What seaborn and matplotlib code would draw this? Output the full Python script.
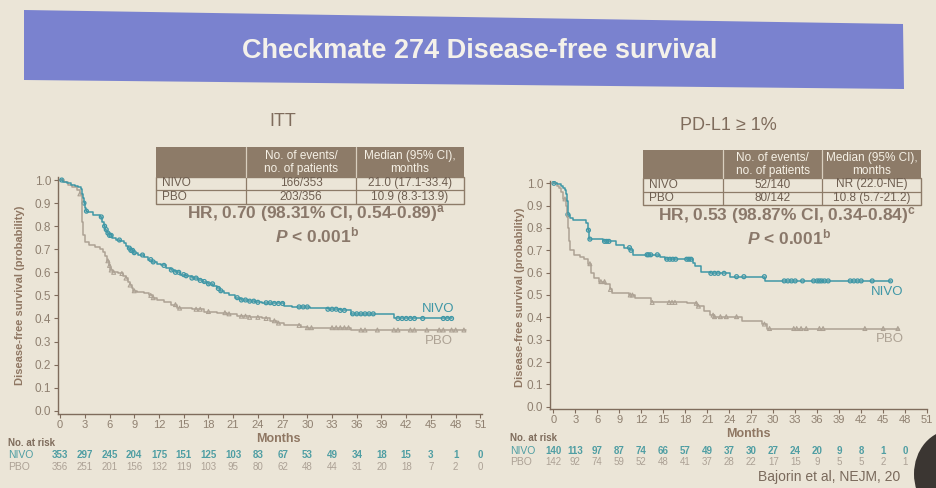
import numpy as np
import matplotlib
matplotlib.use("Agg")
import matplotlib.pyplot as plt
import matplotlib.transforms as mtransforms
from matplotlib.patches import Rectangle, Polygon, Ellipse
import seaborn as sns

# ---- data ----
months_ticks = np.arange(0, 52, 3)

# ITT panel: Kaplan-Meier steps (time, survival)
itt_nivo_t = [0, 0.3, 0.8, 1.3, 1.8, 2.2, 2.5, 2.7, 2.8, 2.9, 3.0, 3.1, 3.3, 4.0, 4.8, 5.1, 5.3, 5.5,
              5.7, 6.0, 6.3, 6.8, 7.3, 7.7, 8.0, 8.3, 8.6, 8.9, 9.5, 10.2, 10.7, 11.2, 11.7, 12.2,
              12.8, 13.4, 14.0, 14.6, 15.3, 16.0, 16.7, 17.3, 18.0, 18.6, 19.0, 19.4, 19.9, 20.5,
              21.2, 22.0, 22.8, 23.6, 24.5, 26.0, 27.2, 28.2, 30.3, 32.5, 34.0, 35.3, 40.5, 47.6]
itt_nivo_s = [1.0, 0.99, 0.985, 0.98, 0.975, 0.97, 0.96, 0.94, 0.92, 0.90, 0.88, 0.865, 0.86, 0.85,
              0.84, 0.82, 0.80, 0.785, 0.77, 0.76, 0.75, 0.74, 0.735, 0.725, 0.715, 0.705, 0.695,
              0.685, 0.675, 0.665, 0.655, 0.645, 0.635, 0.63, 0.62, 0.61, 0.60, 0.59, 0.585, 0.575,
              0.565, 0.56, 0.55, 0.54, 0.53, 0.52, 0.51, 0.50, 0.49, 0.48, 0.475, 0.47, 0.468, 0.465,
              0.455, 0.45, 0.445, 0.44, 0.435, 0.42, 0.40, 0.40]
itt_pbo_t = [0, 0.5, 1.0, 1.5, 2.0, 2.4, 2.6, 2.7, 2.8, 3.0, 3.5, 4.2, 4.8, 5.2, 5.5, 5.7, 5.9, 6.1,
             6.4, 7.0, 7.6, 8.0, 8.3, 8.5, 8.7, 8.9, 9.3, 10.2, 10.8, 11.3, 11.8, 12.6, 13.5, 14.2,
             16.0, 17.5, 19.0, 20.3, 21.5, 23.0, 24.5, 25.5, 26.3, 27.2, 29.2, 30.0, 35.3, 49.3]
itt_pbo_s = [1.0, 0.99, 0.98, 0.97, 0.955, 0.94, 0.90, 0.82, 0.76, 0.73, 0.72, 0.71, 0.70, 0.69,
             0.67, 0.65, 0.63, 0.61, 0.60, 0.595, 0.585, 0.575, 0.56, 0.545, 0.53, 0.52, 0.515,
             0.51, 0.50, 0.49, 0.48, 0.47, 0.46, 0.445, 0.44, 0.43, 0.425, 0.42, 0.41, 0.405, 0.40,
             0.39, 0.38, 0.37, 0.365, 0.36, 0.35, 0.35]
itt_nivo_cens = [0.2, 2.9, 3.2, 5.0, 5.4, 5.6, 5.8, 6.0, 6.2, 7.2, 8.4, 8.6, 8.8, 9.0, 10.0, 11.0,
                 11.3, 12.6, 13.5, 14.0, 14.4, 15.0, 15.3, 16.0, 16.5, 17.0, 17.5, 18.0, 18.5, 19.2,
                 19.5, 21.5, 22.0, 22.5, 23.0, 23.5, 24.0, 25.0, 25.5, 26.0, 26.5, 27.0, 29.0, 29.5,
                 30.0, 32.5, 33.0, 33.5, 34.0, 34.5, 35.5, 36.0, 36.5, 37.0, 37.5, 38.0, 41.0, 41.5,
                 42.0, 42.5, 43.0, 44.0, 46.5, 47.0, 47.5]
itt_pbo_cens = [2.4, 5.8, 6.0, 6.2, 6.5, 7.5, 8.0, 8.5, 9.0, 11.0, 11.3, 14.0, 14.5, 16.5, 17.0,
                18.0, 20.0, 20.5, 22.0, 22.5, 23.0, 24.0, 25.0, 26.0, 26.5, 29.0, 30.0, 30.5, 33.0,
                33.5, 34.0, 34.5, 35.0, 36.5, 37.0, 38.5, 40.5, 41.0, 42.5, 43.0, 44.5, 46.0, 46.5,
                47.5, 48.0, 49.0]

# PD-L1 >= 1% panel
pd_nivo_t = [0, 0.5, 1.0, 1.3, 1.6, 1.8, 1.9, 2.0, 2.3, 2.7, 4.5, 4.7, 4.9, 6.8, 8.5, 9.6, 10.5,
             10.9, 14.5, 15.3, 19.0, 19.3, 20.1, 21.4, 24.1, 28.9, 46.0]
pd_nivo_s = [1.0, 0.995, 0.99, 0.98, 0.97, 0.95, 0.92, 0.86, 0.845, 0.835, 0.82, 0.79, 0.75, 0.74,
             0.725, 0.712, 0.70, 0.68, 0.67, 0.66, 0.645, 0.63, 0.605, 0.597, 0.582, 0.563, 0.563]
pd_pbo_t = [0, 0.5, 0.8, 1.1, 1.4, 1.7, 1.9, 2.0, 2.1, 2.3, 2.9, 3.6, 4.2, 4.7, 5.1, 5.6, 6.2, 7.1,
            7.8, 8.0, 10.3, 11.2, 13.4, 18.3, 19.6, 20.6, 21.4, 21.9, 25.7, 28.5, 29.2, 47.1]
pd_pbo_s = [1.0, 0.99, 0.98, 0.96, 0.93, 0.90, 0.85, 0.80, 0.74, 0.70, 0.68, 0.67, 0.66, 0.64,
            0.60, 0.575, 0.56, 0.55, 0.525, 0.51, 0.50, 0.485, 0.467, 0.463, 0.45, 0.43, 0.41,
            0.403, 0.383, 0.37, 0.35, 0.35]
pd_nivo_cens = [0.1, 2.0, 4.8, 5.0, 7.0, 7.3, 7.6, 10.4, 10.6, 12.8, 13.0, 13.3, 14.2, 15.5, 15.9,
                16.3, 16.7, 18.2, 18.5, 18.8, 21.5, 22.0, 22.5, 23.3, 25.0, 26.0, 28.8, 31.5, 32.0,
                32.5, 33.0, 34.0, 35.5, 36.0, 36.3, 36.6, 37.0, 37.5, 40.5, 41.0, 41.5, 42.0, 43.5,
                46.0]
pd_pbo_cens = [1.6, 5.0, 6.5, 7.0, 7.8, 10.5, 10.8, 13.5, 15.8, 16.2, 16.6, 19.5, 19.8, 21.8,
               22.0, 22.8, 23.6, 25.0, 28.8, 29.5, 32.8, 33.2, 33.8, 34.5, 36.3, 36.8, 42.5, 45.0,
               47.0]

# numbers at risk
itt_risk_nivo = [353, 297, 245, 204, 175, 151, 125, 103, 83, 67, 53, 49, 34, 18, 15, 3, 1, 0]
itt_risk_pbo = [356, 251, 201, 156, 132, 119, 103, 95, 80, 62, 48, 44, 31, 20, 18, 7, 2, 0]
pd_risk_nivo = [140, 113, 97, 87, 74, 66, 57, 49, 37, 30, 27, 24, 20, 9, 8, 1, 0]
pd_risk_pbo = [142, 92, 74, 59, 52, 48, 41, 37, 28, 22, 17, 15, 9, 5, 5, 2, 1]

itt_table = [["NIVO", "166/353", "21.0 (17.1-33.4)"], ["PBO", "203/356", "10.9 (8.3-13.9)"]]
pd_table = [["NIVO", "52/140", "NR (22.0-NE)"], ["PBO", "80/142", "10.8 (5.7-21.2)"]]

# ---- style ----
bg = "#ebe5d7"
brown = "#7f6c5c"
head_fill = "#8d7b68"
teal = "#3f97a6"
grey = "#ada294"

sns.set_theme(style="white")
plt.rcParams["font.family"] = ["Liberation Sans", "DejaVu Sans"]
plt.rcParams["mathtext.fontset"] = "custom"
plt.rcParams["mathtext.rm"] = "Liberation Sans"
plt.rcParams["mathtext.it"] = "Liberation Sans:italic:bold"
plt.rcParams["mathtext.bf"] = "Liberation Sans:bold"

fig = plt.figure(figsize=(9.36, 4.88), dpi=100)
fig.patch.set_facecolor(bg)

axL = fig.add_axes([0.062, 0.1512, 0.453, 0.487])
axR = fig.add_axes([0.5876, 0.162, 0.403, 0.467])


def step_y(t, s, c):
    idx = np.searchsorted(np.array(t), np.array(c), side="right") - 1
    return np.array(s)[idx]


def km_panel(ax, nt, ns, pt, ps, nc, pc, xlim, ylim):
    ax.set_facecolor("none")
    sns.lineplot(x=pt, y=ps, ax=ax, color=grey, lw=1.1, drawstyle="steps-post")
    sns.lineplot(x=nt, y=ns, ax=ax, color=teal, lw=1.1, drawstyle="steps-post")
    sns.scatterplot(x=pc, y=step_y(pt, ps, pc), ax=ax, marker="^", s=8,
                    facecolor="none", edgecolor=grey, linewidth=0.8)
    sns.scatterplot(x=nc, y=step_y(nt, ns, nc), ax=ax, marker="o", s=8,
                    facecolor="none", edgecolor=teal, linewidth=0.9)
    ax.set_xlim(*xlim)
    ax.set_ylim(*ylim)
    ax.set_xticks(months_ticks)
    ax.set_yticks(np.arange(0, 1.01, 0.1))
    ax.set_yticklabels([f"{v:.1f}" for v in np.arange(0, 1.01, 0.1)])
    for sp in ["top", "right"]:
        ax.spines[sp].set_visible(False)
    for sp in ["left", "bottom"]:
        ax.spines[sp].set_color(brown)
        ax.spines[sp].set_linewidth(1.0)
    ax.tick_params(axis="both", colors=brown, labelcolor="#8f8070", labelsize=8.5,
                   length=3, width=0.8, pad=2, direction="out", bottom=True, left=True)
    ax.tick_params(axis="x", labelsize=8, pad=1.5)
    ax.set_xlabel("")
    ax.set_ylabel("")


km_panel(axL, itt_nivo_t, itt_nivo_s, itt_pbo_t, itt_pbo_s, itt_nivo_cens, itt_pbo_cens,
         (-0.25, 51.2), (-0.015, 1.015))
km_panel(axR, pd_nivo_t, pd_nivo_s, pd_pbo_t, pd_pbo_s, pd_nivo_cens, pd_pbo_cens,
         (-0.44, 51.0), (-0.01, 1.01))

axL.text(45.9, 0.44, "NIVO", color=teal, fontsize=9.5, ha="center", va="center")
axL.text(46.0, 0.302, "PBO", color=grey, fontsize=9.5, ha="center", va="center")
axR.text(45.6, 0.513, "NIVO", color=teal, fontsize=9.5, ha="center", va="center")
axR.text(45.9, 0.303, "PBO", color=grey, fontsize=9.5, ha="center", va="center")

# ---- overlay in pixel coordinates ----
ov = fig.add_axes([0, 0, 1, 1], zorder=5)
ov.set_xlim(0, 936)
ov.set_ylim(488, 0)
ov.axis("off")
ov.patch.set_alpha(0)

ov.add_patch(Polygon([(24, 10), (903, 24), (904, 89), (24, 80)], closed=True,
                     facecolor="#7a82cf", edgecolor="none"))
ov.text(480, 51, "Checkmate 274 Disease-free survival", color="#f4f1ea", fontsize=19.5,
        fontweight="bold", ha="center", va="center")
ov.text(283, 122, "ITT", color=brown, fontsize=13, ha="center", va="center")
ov.text(728, 125, "PD-L1 ≥ 1%", color=brown, fontsize=13, ha="center", va="center")


def draw_table(x0, xa, xb, x1, y0, yh, ym, y1, rows):
    ov.add_patch(Rectangle((x0, y0), x1 - x0, yh - y0, facecolor=head_fill, edgecolor="none"))
    ov.add_patch(Rectangle((x0, yh), x1 - x0, y1 - yh, facecolor="none",
                           edgecolor=head_fill, lw=1.0))
    ov.plot([x0, x1], [ym, ym], color=head_fill, lw=0.9)
    for xx in (xa, xb):
        ov.plot([xx, xx], [yh, y1], color=head_fill, lw=0.9)
        ov.plot([xx, xx], [y0, yh], color="#d9cfbf", lw=0.9)
    tc = "#f6f1e6"
    fs = 8.5
    ov.text((xa + xb) / 2, y0 + (yh - y0) * 0.3, "No. of events/", color=tc, fontsize=fs,
            ha="center", va="center")
    ov.text((xa + xb) / 2, y0 + (yh - y0) * 0.75, "no. of patients", color=tc, fontsize=fs,
            ha="center", va="center")
    ov.text((xb + x1) / 2, y0 + (yh - y0) * 0.3, "Median (95% CI),", color=tc, fontsize=fs,
            ha="center", va="center")
    ov.text((xb + x1) / 2, y0 + (yh - y0) * 0.75, "months", color=tc, fontsize=fs,
            ha="center", va="center")
    for (lab, ev, med), (ya, yb) in zip(rows, [(yh, ym), (ym, y1)]):
        yc = (ya + yb) / 2
        ov.text(x0 + 6, yc, lab, color="#6e5e50", fontsize=fs, ha="left", va="center")
        ov.text((xa + xb) / 2, yc, ev, color="#6e5e50", fontsize=fs, ha="center", va="center")
        ov.text((xb + x1) / 2, yc, med, color="#6e5e50", fontsize=fs, ha="center", va="center")


draw_table(156, 246, 356, 464, 147, 176.5, 190, 204, itt_table)
draw_table(643, 723, 822, 921, 150, 177.5, 191.5, 205, pd_table)

hr_c = "#8a786a"
ov.text(316, 214, r"HR, 0.70 (98.31% CI, 0.54-0.89)$^{\mathbf{a}}$", color=hr_c,
        fontsize=12.5, fontweight="bold", ha="center", va="center")
ov.text(317, 235, r"$\mathit{P}$ < 0.001$^{\mathbf{b}}$", color=hr_c,
        fontsize=12.5, fontweight="bold", ha="center", va="center")
ov.text(787, 215, r"HR, 0.53 (98.87% CI, 0.34-0.84)$^{\mathbf{c}}$", color=hr_c,
        fontsize=12.5, fontweight="bold", ha="center", va="center")
ov.text(789, 237, r"$\mathit{P}$ < 0.001$^{\mathbf{b}}$", color=hr_c,
        fontsize=12.5, fontweight="bold", ha="center", va="center")

ov.text(20, 295, "Disease-free survival (probability)", color="#8f7763", fontsize=8,
        fontweight="bold", rotation=90, ha="center", va="center")
ov.text(520, 297, "Disease-free survival (probability)", color="#8f7763", fontsize=8,
        fontweight="bold", rotation=90, ha="center", va="center")
ov.text(278, 439, "Months", color="#8f7763", fontsize=9, fontweight="bold",
        ha="center", va="center")
ov.text(748, 434, "Months", color="#8f7763", fontsize=9, fontweight="bold",
        ha="center", va="center")


def risk_rows(ax, x_lab, y_head, y_n, y_p, nivo, pbo):
    tr = mtransforms.blended_transform_factory(ax.transData, ov.transData)
    ov.text(x_lab, y_head, "No. at risk", color="#7f6c5c", fontsize=7, fontweight="bold",
            ha="left", va="center")
    ov.text(x_lab, y_n, "NIVO", color="#4f9ea3", fontsize=7.5, ha="left", va="center")
    ov.text(x_lab, y_p, "PBO", color="#aca195", fontsize=7.5, ha="left", va="center")
    for m, v in zip(months_ticks, nivo):
        ov.text(m, y_n, str(v), color="#4f9ea3", fontsize=7, fontweight="bold",
                ha="center", va="center", transform=tr)
    for m, v in zip(months_ticks, pbo):
        ov.text(m, y_p, str(v), color="#aca195", fontsize=7, ha="center", va="center",
                transform=tr)


risk_rows(axL, 8, 443, 455, 467, itt_risk_nivo, itt_risk_pbo)
risk_rows(axR, 510, 438, 451, 462, pd_risk_nivo, pd_risk_pbo)

ov.text(758, 477, "Bajorin et al, NEJM, 20", color="#7a6a5c", fontsize=10, ha="left",
        va="center")
ov.add_patch(Ellipse((952, 474), 76, 88, facecolor="#3b3632", edgecolor="none"))

fig.savefig("out.png", dpi=100, facecolor=bg)
